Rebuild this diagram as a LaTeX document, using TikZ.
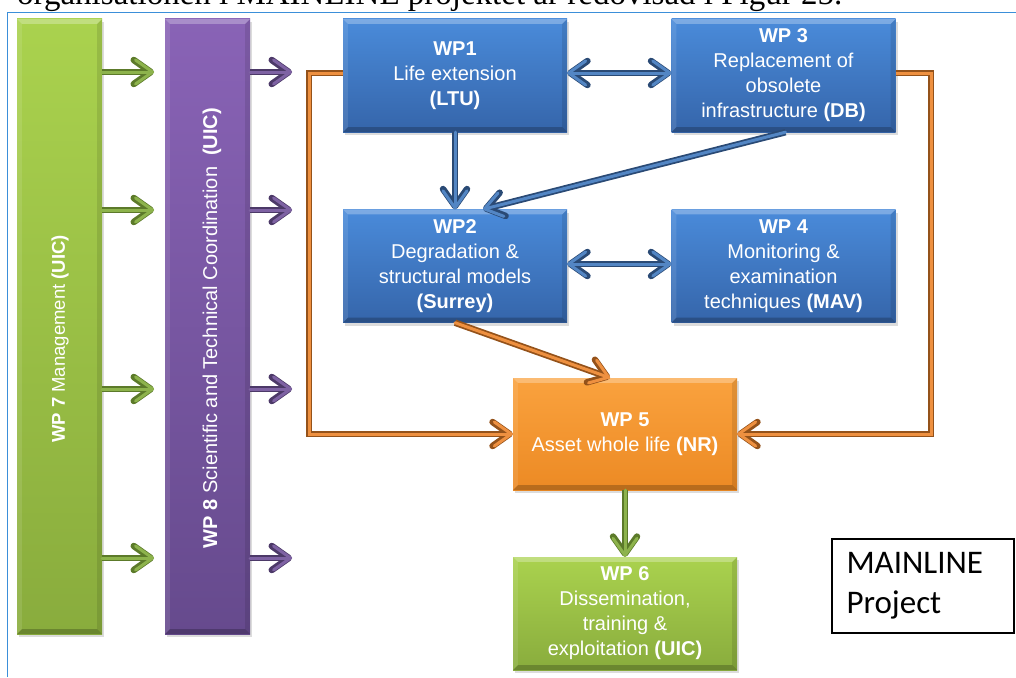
\documentclass[tikz,border=0pt]{standalone}
\usepackage{fontspec}
\setmainfont{Liberation Serif}
\setsansfont{Liberation Sans}
\newfontfamily\calibrifont{Carlito}
\usetikzlibrary{arrows.meta,calc,shadows}

% fills
\definecolor{frameblue}{HTML}{3B8FD9}
\definecolor{bluetop}{HTML}{4A8BDA}
\definecolor{bluebot}{HTML}{3565AA}
\definecolor{greentop}{HTML}{AAD24E}
\definecolor{greenbot}{HTML}{89AC3D}
\definecolor{purpletop}{HTML}{8963B6}
\definecolor{purplebot}{HTML}{664A8D}
\definecolor{orangetop}{HTML}{FAA23E}
\definecolor{orangebot}{HTML}{EC8A24}
% connectors: outline and core
\definecolor{gedge}{HTML}{5C7A2A}
\definecolor{gcore}{HTML}{8DB34C}
\definecolor{pedge}{HTML}{4C3968}
\definecolor{pcore}{HTML}{7E62A3}
\definecolor{bedge}{HTML}{2A4A75}
\definecolor{bcore}{HTML}{5386C4}
\definecolor{oedge}{HTML}{94521A}
\definecolor{ocore}{HTML}{EE9040}

\tikzset{
  wpbox/.style={minimum width=224pt, minimum height=113pt, inner sep=0pt,
    align=center, text=white, font=\sffamily\fontsize{20}{25}\selectfont,
    drop shadow={opacity=.28, shadow xshift=2pt, shadow yshift=-3pt}},
  bluebox/.style={wpbox, top color=bluetop, bottom color=bluebot},
  orangebox/.style={wpbox, top color=orangetop, bottom color=orangebot},
  greenbox/.style={wpbox, top color=greentop, bottom color=greenbot},
  tallbox/.style={minimum width=85pt, minimum height=615pt, inner sep=0pt,
    drop shadow={opacity=.28, shadow xshift=2pt, shadow yshift=-3pt}},
  sidetext/.style={rotate=90, text=white, inner sep=0pt,
    font=\sffamily\fontsize{20}{24}\selectfont},
  barb/.tip={Straight Barb[length=17pt, width=24pt, round]},
  conn/.style n args={2}{draw=#2, line width=3pt, line cap=round,
    preaction={draw=#1, line width=6.5pt}},
  greenconn/.style={conn={gedge}{gcore}, -barb},
  purpleconn/.style={conn={pedge}{pcore}, -barb},
  blueconn/.style={conn={bedge}{bcore}},
  orangeconn/.style={conn={oedge}{ocore}, line cap=butt, -barb},
}

% bevelled edges of a box
\newcommand\wpbevel[1]{%
  \fill[white, opacity=.28] (#1.north west) -- (#1.north east)
    -- ($(#1.north east)+(-5,5)$) -- ($(#1.north west)+(5,5)$) -- cycle;
  \fill[white, opacity=.10] (#1.north west) -- ($(#1.north west)+(5,5)$)
    -- ($(#1.south west)+(5,-5)$) -- (#1.south west) -- cycle;
  \fill[black, opacity=.10] (#1.north east) -- (#1.south east)
    -- ($(#1.south east)+(-5,-5)$) -- ($(#1.north east)+(-5,5)$) -- cycle;
  \fill[black, opacity=.22] (#1.south west) -- (#1.south east)
    -- ($(#1.south east)+(-5,-5)$) -- ($(#1.south west)+(5,-5)$) -- cycle;
}

\begin{document}
\begin{tikzpicture}[x=1pt, y=-1pt]
\useasboundingbox (0,0) rectangle (1016,677);

% line of running text above the figure frame
\node[anchor=base west, inner sep=0pt, font=\fontsize{33}{33}\selectfont]
  (caption) at (17,5) {organisationen i MAINLINE projektet är redovisad i Figur 25.};

% figure frame
\draw[frameblue, line width=1.4pt] (7.5,677) -- (7.5,12.5) -- (1016,12.5);

% management and coordination columns
\node[tallbox, top color=greentop, bottom color=greenbot] (wp7) at (59.5,326.5) {};
\node[tallbox, top color=purpletop, bottom color=purplebot] (wp8) at (207.5,326.5) {};
\wpbevel{wp7}
\wpbevel{wp8}
\node[sidetext, font=\sffamily\fontsize{18.5}{22}\selectfont] (wp7text) at (60,339) {\textbf{WP 7} Management \textbf{(UIC)}};
\node[sidetext] (wp8text) at (212,328) {\textbf{WP 8} Scientific and Technical Coordination\ \ \textbf{(UIC)}};

% work packages
\node[bluebox] (wp1) at (455,75.5) {\textbf{WP1}\\Life extension\\\textbf{(LTU)}};
\node[bluebox] (wp3) at (783.5,75.5) {\textbf{WP 3}\\Replacement of\\obsolete\\infrastructure \textbf{(DB)}};
\node[bluebox] (wp2) at (455,266) {\textbf{WP2}\\Degradation \&\\structural models\\\textbf{(Surrey)}};
\node[bluebox] (wp4) at (783.5,266) {\textbf{WP 4}\\Monitoring \&\\examination\\techniques \textbf{(MAV)}};
\node[orangebox, minimum height=112pt] (wp5) at (625,434) {\textbf{WP 5}\\Asset whole life \textbf{(NR)}};
\node[greenbox] (wp6) at (625,613.5) {\textbf{WP 6}\\Dissemination,\\training \&\\exploitation \textbf{(UIC)}};
\foreach \n in {wp1,wp2,wp3,wp4,wp5,wp6} {\wpbevel{\n}}

% project label
\node[draw=black, line width=2pt, minimum width=182pt, minimum height=94pt,
  inner xsep=15pt, inner ysep=0pt, text width=152pt, align=left,
  font=\calibrifont\fontsize{33}{40}\selectfont] (mainline) at (922.5,586)
  {MAINLINE\\Project};

% arrows fanning out of WP 7 and WP 8
\foreach \i/\y in {1/72,2/210,3/389,4/558} {
  \coordinate (g\i) at (154,\y);
  \coordinate (p\i) at (292,\y);
  \draw[greenconn] (wp7.east |- g\i) -- (g\i);
  \draw[purpleconn] (wp8.east |- p\i) -- (p\i);
}

% links between the technical work packages
\draw[blueconn, barb-barb] (wp1.east |- 0,73) -- (wp3.west |- 0,73);
\draw[blueconn, barb-barb] (wp2.east |- 0,264) -- (wp4.west |- 0,264);
\draw[blueconn, -barb] (wp1.south) -- (wp2.north);
\draw[blueconn, -barb] ([xshift=2pt]wp3.south) -- ([xshift=28pt]wp2.north);

% flows into WP 5 and on to WP 6
\coordinate (leftrun) at (309,434);
\coordinate (rightrun) at (931,434);
\draw[orangeconn] (wp1.west |- 0,73) -| (leftrun) -- (wp5.west);
\draw[orangeconn] (wp3.east |- 0,73) -| (rightrun) -- (wp5.east);
\draw[orangeconn, line cap=round] (wp2.south) -- ([xshift=-15pt]wp5.north);
\draw[greenconn] (wp5.south) -- (wp6.north);
\end{tikzpicture}
\end{document}
